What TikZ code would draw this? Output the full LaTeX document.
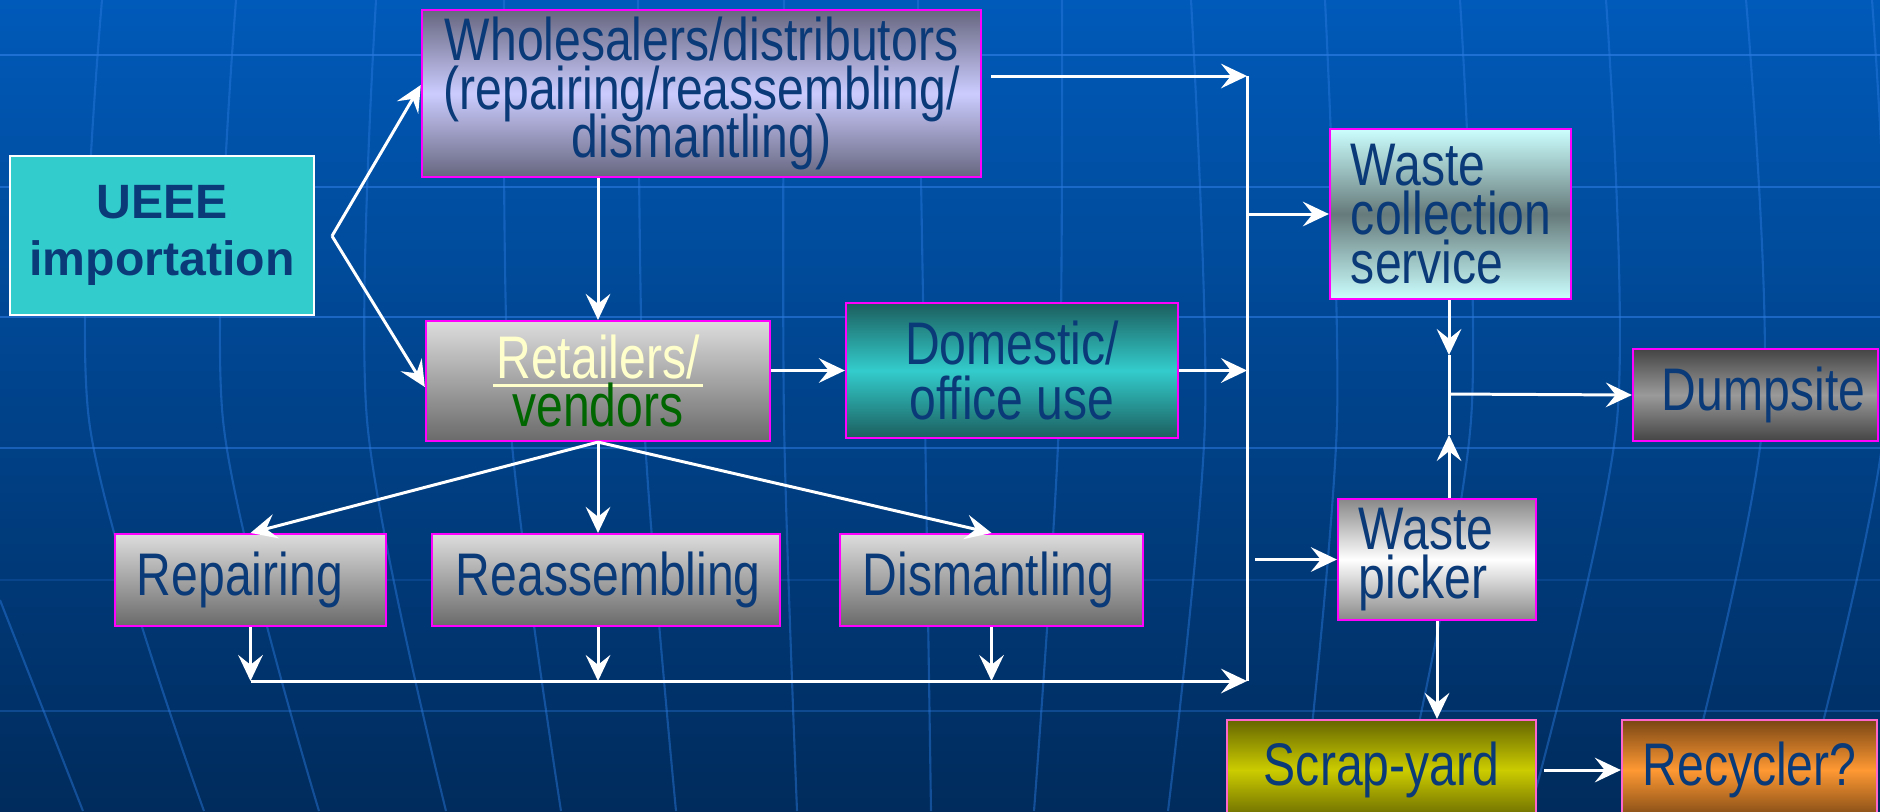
\documentclass[tikz,border=0pt]{standalone}
\usepackage{fontspec}
\setmainfont{Liberation Sans}
\newfontfamily\narrowsans[FakeStretch=0.8]{Liberation Sans}
\usetikzlibrary{arrows.meta}
\definecolor{bgtop}{HTML}{005AB9}
\definecolor{bgbot}{HTML}{002B5C}
\definecolor{gridblue}{HTML}{2C7BE0}
\definecolor{inkblue}{HTML}{0B3A78}
\definecolor{stagerim}{HTML}{FF00FF}
\definecolor{softrim}{HTML}{FF66CC}
\definecolor{importcyan}{HTML}{33CCCC}
\definecolor{lilacdark}{HTML}{66667F}
\definecolor{lilaclight}{HTML}{CCCCFF}
\definecolor{fadetop}{HTML}{DDDDDD}
\definecolor{fadebot}{HTML}{6A6A6A}
\definecolor{tealdark}{HTML}{1C5E5E}
\definecolor{icelight}{HTML}{CCFFFF}
\definecolor{icemid}{HTML}{667A7A}
\definecolor{dumpdark}{HTML}{444444}
\definecolor{dumpmid}{HTML}{9A9A9A}
\definecolor{pickgrey}{HTML}{888888}
\definecolor{olivetop}{HTML}{666600}
\definecolor{oliveyellow}{HTML}{CCCC00}
\definecolor{rustbrown}{HTML}{7A4614}
\definecolor{rustorange}{HTML}{FF9933}
\definecolor{retailyellow}{HTML}{FFFFCC}
\definecolor{vendgreen}{HTML}{006600}

% condensed box lettering, lines packed tighter than the type size
\newcommand\stagefont[1]{\narrowsans\fontsize{17.1}{#1}\selectfont\lineskiplimit=-30pt\relax}
% heavy underline for the retailers label
\newcommand\retailrule[1]{\setbox0\hbox{#1}\rlap{\kern-1pt\rule[-2.6pt]{\dimexpr\wd0+2pt\relax}{0.85pt}}\box0}

\begin{document}
\begin{tikzpicture}[
  x=0.01cm, y=-0.01cm,
  stage/.style={draw=stagerim, line width=0.6pt, inner sep=0pt, text=inkblue,
    font=\stagefont{13.9}},
  flush/.style={stage, align=left},
  greyfade/.style={top color=fadetop, bottom color=fadebot},
  arr/.style={-{Stealth[length=7.4pt, width=7pt, inset=2.8pt]}, white, line width=0.85pt},
  wire/.style={white, line width=0.85pt},
  bgrule/.style={gridblue, line width=0.8pt},
  meridian/.style={gridblue, line width=0.6pt, opacity=0.45}
]
\useasboundingbox (0,0) rectangle (1880,811);
\clip (0,0) rectangle (1880,811);

% backdrop with globe lines
\shade[top color=bgtop, bottom color=bgbot] (0,0) rectangle (1880,811);
\foreach \y/\o in {55/0.7, 187/0.6, 317/0.6, 448/0.55, 580/0.2, 711/0.35}
  \draw[bgrule, opacity=\o] (0,\y) -- (1880,\y);
\foreach \a/\b/\c in {102/89/204, 236/223/319, 376/367/446, 504/510/561, 638/644/676,
    784/784/797, 918/925/931, 1062/1059/1034, 1191/1205/1168, 1325/1337/1303,
    1460/1471/1400, 1606/1617/1530, 1746/1763/1680, 1872/1885/1800}
  \draw[meridian] plot[smooth] coordinates {(\a,0) (\b,420) (\c,811)};
\draw[meridian] (0,600) -- (83,811);

% boxes
\node[draw=white, line width=0.6pt, fill=importcyan, text=inkblue, align=center,
  minimum width=3.04cm, minimum height=1.59cm, inner sep=0pt,
  font=\bfseries\fontsize{13.7}{16.2}\selectfont] (ueee) at (162,235.5) {UEEE\\importation};
\node[stage, align=center, top color=lilacdark, bottom color=lilacdark, middle color=lilaclight,
  minimum width=5.59cm, minimum height=1.67cm] (whole) at (701.5,93.5)
  {Wholesalers/distributors\\(repairing/reassembling/\\dismantling)};
\node[stage, greyfade, align=center, minimum width=3.44cm, minimum height=1.20cm] (retail) at (598,381)
  {{\color{retailyellow}\retailrule{Retailers/}}\\{\color{vendgreen}vendors}};
\node[stage, align=center, top color=tealdark, bottom color=tealdark, middle color=importcyan,
  minimum width=3.32cm, minimum height=1.35cm, font=\stagefont{15.6}] (domestic) at (1012,370.5)
  {Domestic/\\office use};
\node[flush, top color=icelight, bottom color=icelight, middle color=icemid,
  text width=1.99cm, inner xsep=0.21cm, minimum height=1.70cm] (wastecoll) at (1450.5,214)
  {Waste\\collection\\service};
\node[flush, top color=dumpdark, bottom color=dumpdark, middle color=dumpmid,
  text width=1.87cm, inner xsep=0.29cm, minimum height=0.92cm] (dump) at (1755.5,395) {Dumpsite};

% what the retailers pass on
\node[flush, greyfade, text width=2.27cm, inner xsep=0.22cm, minimum height=0.92cm] (repair) at (250.5,580) {Repairing};
\node[flush, greyfade, text width=3.00cm, inner xsep=0.24cm, minimum height=0.92cm] (reasm) at (606,580) {Reassembling};
\node[flush, greyfade, text width=2.57cm, inner xsep=0.23cm, minimum height=0.92cm] (dismant) at (991.5,580) {Dismantling};

\node[flush, top color=pickgrey, bottom color=pickgrey, middle color=white,
  text width=1.56cm, inner xsep=0.21cm, minimum height=1.21cm, font=\stagefont{14.2}] (picker) at (1437,559.5)
  {Waste\\picker};
\node[stage, draw=softrim, top color=olivetop, bottom color=olivetop, middle color=oliveyellow,
  minimum width=3.09cm, minimum height=1.00cm] (scrap) at (1381.5,770) {Scrap-yard};
\node[stage, draw=softrim, top color=rustbrown, bottom color=rustbrown, middle color=rustorange,
  minimum width=2.55cm, minimum height=1.00cm] (recyc) at (1749.5,770) {Recycler?};

% flows out of importation
\coordinate (fork) at (332,236);
\draw[arr] (fork) -- ([yshift=0.085cm]whole.west);
\draw[arr] (fork) -- ([yshift=-0.06cm]retail.west);
\draw[arr] (whole.south -| retail.north) -- (retail.north);
\draw[arr] (retail.east |- domestic.west) -- (domestic.west);
\draw[arr] (retail.south) -- (repair.north);
\draw[arr] (retail.south) -- (retail.south |- reasm.north);
\draw[arr] (retail.south) -- (dismant.north);

% collecting bus
\coordinate (busTop) at (1247,76);
\coordinate (busBot) at (1247,681);
\draw[wire] (busTop) -- (busBot);
\draw[arr, shorten <=2.5pt] (whole.east |- busTop) -- (busTop);
\draw[arr] (domestic.east) -- (domestic.east -| busTop);
\foreach \n in {repair, dismant}
  \draw[arr] (\n.south) -- (\n.south |- busBot);
\draw[arr] (reasm.south -| retail.south) -- (retail.south |- busBot);
\draw[arr] (repair.south |- busBot) -- (busBot);
\draw[arr] (busTop |- wastecoll.west) -- (wastecoll.west);
\draw[arr, shorten <=2.3pt] (busTop |- picker.west) -- (picker.west);

% end of the chain
\coordinate (collTip) at (1449,355);
\coordinate (pickTip) at (1449,435);
\coordinate (dumpJoin) at (1449,394);
\draw[wire] (collTip) -- (pickTip);
\draw[arr] (wastecoll.south -| collTip) -- (collTip);
\draw[arr] (picker.north -| pickTip) -- (pickTip);
\draw[arr] (dumpJoin) -- (dump.west);
\draw[arr] (picker.south) -- (picker.south |- scrap.north);
\draw[arr, shorten <=2pt] (scrap.east) -- (recyc.west);

\end{tikzpicture}
\end{document}
